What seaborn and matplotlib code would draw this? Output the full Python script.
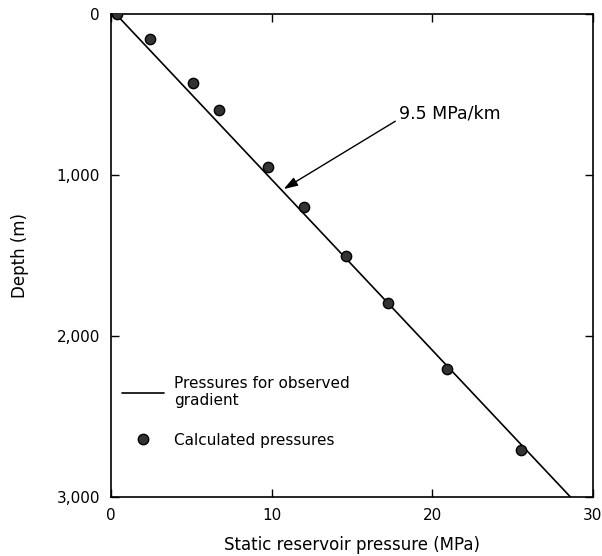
import numpy as np
import pandas as pd
import matplotlib
matplotlib.use("Agg")
import matplotlib.pyplot as plt
import seaborn as sns
from matplotlib.lines import Line2D

# calculated pressures
pressure_mpa = [0.4, 2.4, 5.1, 6.75, 9.75, 12.0, 14.6, 17.25, 20.9, 25.5]
depth_m = [0, 155, 430, 596, 950, 1200, 1503, 1795, 2205, 2708]

# observed gradient line (9.5 MPa/km)
line_pressure = [0.3, 28.6]
line_depth = [0, 3000]

x_ticks = [0, 10, 20, 30]
y_ticks = [0, 1000, 2000, 3000]
y_tick_labels = ["0", "1,000", "2,000", "3,000"]

sns.set_theme(style="white")
plt.rcParams['font.family'] = ['DejaVu Sans']
plt.rcParams['text.color'] = 'black'
plt.rcParams['axes.labelcolor'] = 'black'

fig = plt.figure(figsize=(6.02, 5.56), dpi=100)
ax = fig.add_axes([0.1844, 0.1061, 0.8006, 0.8687])

pts = pd.DataFrame({"pressure": pressure_mpa, "depth": depth_m})
ln = pd.DataFrame({"pressure": line_pressure, "depth": line_depth})

sns.lineplot(data=ln, x="pressure", y="depth", color="black", linewidth=1.2,
             ax=ax, sort=False, legend=False)
sns.scatterplot(data=pts, x="pressure", y="depth", color="#333333",
                edgecolor="black", linewidth=1.0, s=55, ax=ax, legend=False,
                zorder=3)

ax.set_xlim(0, 30)
ax.set_ylim(3000, 0)
ax.set_xticks(x_ticks)
ax.set_xticklabels([str(t) for t in x_ticks])
ax.set_yticks(y_ticks)
ax.set_yticklabels(y_tick_labels)
ax.tick_params(axis="both", direction="in", length=6, width=1, colors="black",
               labelsize=11, top=True, right=True, bottom=True, left=True, pad=8)
for s in ax.spines.values():
    s.set_color("black")
    s.set_linewidth(1.2)

ax.set_xlabel("Static reservoir pressure (MPa)", fontsize=12, labelpad=9)
ax.set_ylabel("Depth (m)", fontsize=12, labelpad=20)

ax.annotate("9.5 MPa/km", xy=(10.75, 1087), xytext=(17.9, 620),
            fontsize=12.5, va="center", ha="left",
            arrowprops=dict(arrowstyle="-|>,head_length=0.6,head_width=0.2",
                            color="black", lw=1.0,
                            shrinkA=0, shrinkB=0, mutation_scale=14,
                            relpos=(0.0, 0.2)))

handles = [Line2D([0], [0], color="black", lw=1.2),
           Line2D([0], [0], marker="o", color="none", markerfacecolor="#333333",
                  markeredgecolor="black", markersize=7.5)]
labels = ["Pressures for observed\ngradient", "Calculated pressures"]
ax.legend(handles, labels, loc="upper left", bbox_to_anchor=(0.0, 0.273),
          frameon=False, fontsize=11, handlelength=2.8, handletextpad=0.6,
          labelspacing=1.6, borderaxespad=0.3)

fig.savefig("out.png", dpi=100)
